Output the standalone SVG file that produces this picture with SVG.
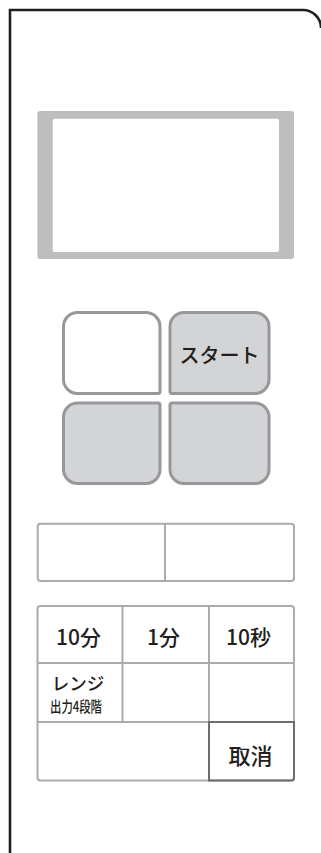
<svg xmlns="http://www.w3.org/2000/svg" width="321" height="853" viewBox="0 0 321 853">
<style>
.btn{stroke:#97989b;stroke-width:3;}
.grid{fill:none;stroke:#a9abae;stroke-width:2;}
.t{font-family:"Noto Sans CJK JP","Noto Sans",sans-serif;font-weight:500;fill:#231f20;text-anchor:middle;}
</style>
<rect width="321" height="853" fill="#ffffff"/>
<g id="frame">
<path d="M10,853 V10 H303 A18,18 0 0 1 321,28" fill="none" stroke="#231f20" stroke-width="2.6"/>
</g>
<g id="display">
<rect x="37.3" y="111" width="256.7" height="148" rx="3" fill="#bcbec0"/>
<rect x="52.7" y="118.7" width="226.3" height="133.3" rx="2" fill="#ffffff"/>
</g>
<g id="btn-tl">
<path class="btn" fill="#ffffff" d="M63.5,326.5 A14,14 0 0 1 77.5,312.5 H146 A14,14 0 0 1 160,326.5 V391.5 A2,2 0 0 1 158,393.5 H77.5 A14,14 0 0 1 63.5,379.5 Z"/>
</g>
<g id="btn-start">
<path class="btn" fill="#d3d4d6" d="M170,326.5 A14,14 0 0 1 184,312.5 H255 A14,14 0 0 1 269,326.5 V379.5 A14,14 0 0 1 255,393.5 H172 A2,2 0 0 1 170,391.5 Z"/>
<text class="t" x="219.5" y="363" font-size="20">スタート</text>
</g>
<g id="btn-bl">
<path class="btn" fill="#d3d4d6" d="M63.5,417 A14,14 0 0 1 77.5,403 H158 A2,2 0 0 1 160,405 V469.5 A14,14 0 0 1 146,483.5 H77.5 A14,14 0 0 1 63.5,469.5 Z"/>
</g>
<g id="btn-br">
<path class="btn" fill="#d3d4d6" d="M170,405 A2,2 0 0 1 172,403 H255 A14,14 0 0 1 269,417 V469.5 A14,14 0 0 1 255,483.5 H184 A14,14 0 0 1 170,469.5 Z"/>
</g>
<g id="strip">
<rect class="grid" x="37.7" y="523.7" width="256.3" height="57.3" rx="3" stroke="#b1b3b6"/>
<line class="grid" x1="165" y1="523.7" x2="165" y2="581" stroke="#b1b3b6"/>
</g>
<g id="keypad">
<rect class="grid" x="37.5" y="606" width="256.5" height="174.5" rx="3"/>
<line class="grid" x1="122.5" y1="606" x2="122.5" y2="722"/>
<line class="grid" x1="209" y1="606" x2="209" y2="722"/>
<line class="grid" x1="37.5" y1="663" x2="294" y2="663"/>
<line class="grid" x1="37.5" y1="722" x2="209" y2="722"/>
</g>
<g id="key-10min"><text class="t" x="78.5" y="645" font-size="21">10分</text></g>
<g id="key-1min"><text class="t" x="163.5" y="645" font-size="21">1分</text></g>
<g id="key-10sec"><text class="t" x="248.5" y="645" font-size="21">10秒</text></g>
<g id="key-range">
<text class="t" x="78" y="689.5" font-size="17.5">レンジ</text>
<text class="t" x="76" y="711.5" font-size="15" textLength="52" lengthAdjust="spacingAndGlyphs">出力4段階</text>
</g>
<g id="key-cancel">
<path d="M209,722 H294 V778 A2.5,2.5 0 0 1 291.5,780.5 H209 Z" fill="none" stroke="#6d6e71" stroke-width="2"/>
<text class="t" x="250.5" y="764" font-size="22">取消</text>
</g>
</svg>
